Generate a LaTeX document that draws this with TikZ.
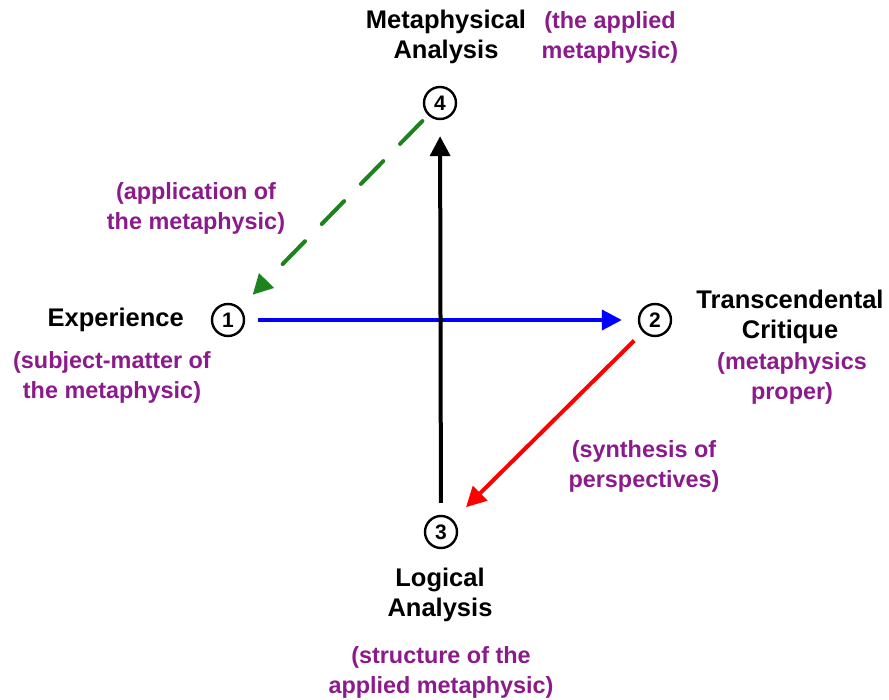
\documentclass[tikz,border=0pt]{standalone}
\usepackage{fontspec}
\setmainfont{Liberation Sans}
\usetikzlibrary{arrows.meta}
\definecolor{notepurple}{RGB}{139,26,139}
\definecolor{stepgreen}{RGB}{30,130,30}
\tikzstyle{stage}=[draw, circle, line width=2.4pt, minimum size=32pt, inner sep=0pt, font=\bfseries\fontsize{21}{21}\selectfont]
\tikzstyle{title}=[align=center, inner sep=0pt, font=\bfseries\fontsize{25.5}{29.5}\selectfont]
\tikzstyle{note}=[title, text=notepurple, font=\bfseries\fontsize{23.4}{30}\selectfont]
\tikzstyle{move}=[line width=4pt, -{Triangle[length=20pt,width=20pt]}]

\begin{document}
\begin{tikzpicture}[x=1pt, y=-1pt]
          \useasboundingbox (0, 0) rectangle (889, 700);
          \node[stage] (exp) at (228, 320) {1};
          \node[stage] (tc) at (655, 320) {2};
          \node[stage] (la) at (441, 532) {3};
          \node[stage] (ma) at (440, 103) {4};
          \node[title] (mat) at (446, 37) {Metaphysical\\Analysis};
          \node[note] (man) at (610, 37) {(the applied\\metaphysic)};
          \node[note] (appn) at (196, 208) {(application of\\the metaphysic)};
          \node[title, anchor=east] (expt) at (184, 320) {Experience};
          \node[note] (expn) at (112, 377) {(subject-matter of\\the metaphysic)};
          \node[title] (tct) at (790, 317) {Transcendental\\Critique};
          \node[note] (tcn) at (792, 378) {(metaphysics\\proper)};
          \node[note] (synn) at (644, 466) {(synthesis of\\perspectives)};
          \node[title] (lat) at (440, 595) {Logical\\Analysis};
          \node[note] (lan) at (441, 672) {(structure of the\\applied metaphysic)};
          \draw[move, blue, shorten <=13pt, shorten >=16pt] (exp) -- (tc);
          \draw[move, red, shorten <=12pt, shorten >=18pt] (tc) -- (la);
          \draw[move, black, shorten <=12pt, shorten >=16pt] (la) -- (ma);
          \draw[move, stepgreen, line cap=round, dash pattern=on 32pt off 24pt,
            shorten <=8pt, shorten >=18pt] (ma) -- (exp);
        \end{tikzpicture}
\end{document}
